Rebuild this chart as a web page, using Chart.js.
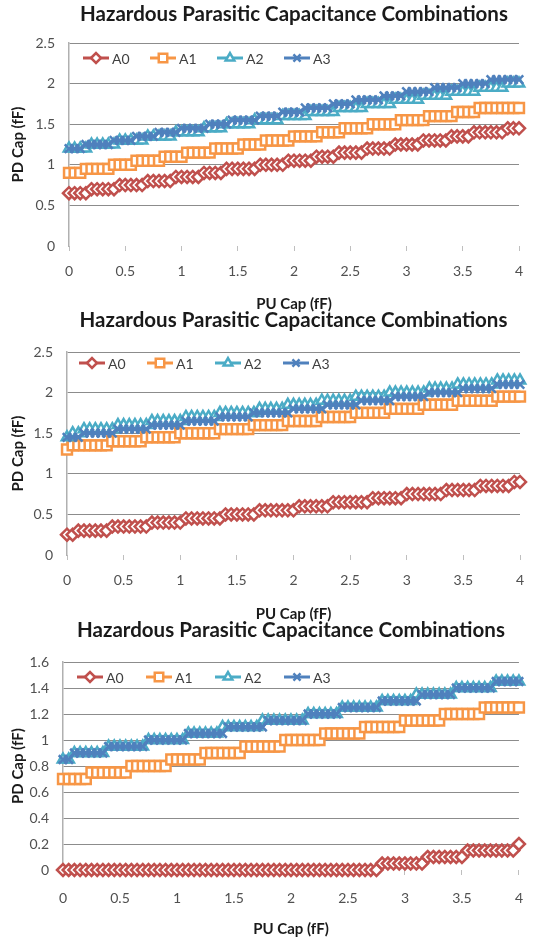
<!DOCTYPE html>
<html>
<head>
<meta charset="utf-8">
<script src="https://cdn.jsdelivr.net/npm/chart.js"></script>
<style>
  html, body { margin: 0; padding: 0; background: #fff; width: 538px; height: 938px; overflow: hidden; }
  .box { position: absolute; left: 0; }
</style>
</head>
<body>
<div class="box" style="top:0px"><canvas id="c1" width="538" height="313"></canvas></div>
<div class="box" style="top:306px"><canvas id="c2" width="538" height="317"></canvas></div>
<div class="box" style="top:616px"><canvas id="c3" width="538" height="322"></canvas></div>
<script>
// PU Cap (fF) - eje X, paso 0.05
const puCap = [
  0, 0.05, 0.1, 0.15, 0.2, 0.25, 0.3, 0.35, 0.4, 0.45,
  0.5, 0.55, 0.6, 0.65, 0.7, 0.75, 0.8, 0.85, 0.9, 0.95,
  1, 1.05, 1.1, 1.15, 1.2, 1.25, 1.3, 1.35, 1.4, 1.45,
  1.5, 1.55, 1.6, 1.65, 1.7, 1.75, 1.8, 1.85, 1.9, 1.95,
  2, 2.05, 2.1, 2.15, 2.2, 2.25, 2.3, 2.35, 2.4, 2.45,
  2.5, 2.55, 2.6, 2.65, 2.7, 2.75, 2.8, 2.85, 2.9, 2.95,
  3, 3.05, 3.1, 3.15, 3.2, 3.25, 3.3, 3.35, 3.4, 3.45,
  3.5, 3.55, 3.6, 3.65, 3.7, 3.75, 3.8, 3.85, 3.9, 3.95,
  4
];

const seriesNames = ['A0', 'A1', 'A2', 'A3'];

// Grafico 1 - PD Cap (fF)
const c1A0 = [
  0.65, 0.65, 0.65, 0.65,
  0.7, 0.7, 0.7, 0.7, 0.7,
  0.75, 0.75, 0.75, 0.75, 0.75,
  0.8, 0.8, 0.8, 0.8, 0.8,
  0.85, 0.85, 0.85, 0.85, 0.85,
  0.9, 0.9, 0.9, 0.9,
  0.95, 0.95, 0.95, 0.95, 0.95, 0.95,
  1, 1, 1, 1, 1,
  1.05, 1.05, 1.05, 1.05, 1.05,
  1.1, 1.1, 1.1, 1.1,
  1.15, 1.15, 1.15, 1.15, 1.15,
  1.2, 1.2, 1.2, 1.2, 1.2,
  1.25, 1.25, 1.25, 1.25, 1.25,
  1.3, 1.3, 1.3, 1.3, 1.3,
  1.35, 1.35, 1.35, 1.35,
  1.4, 1.4, 1.4, 1.4, 1.4, 1.4,
  1.45, 1.45, 1.45
];
const c1A1 = [
  0.9, 0.9, 0.9,
  0.95, 0.95, 0.95, 0.95, 0.95,
  1, 1, 1, 1,
  1.05, 1.05, 1.05, 1.05, 1.05,
  1.1, 1.1, 1.1, 1.1,
  1.15, 1.15, 1.15, 1.15, 1.15,
  1.2, 1.2, 1.2, 1.2, 1.2,
  1.25, 1.25, 1.25, 1.25,
  1.3, 1.3, 1.3, 1.3, 1.3,
  1.35, 1.35, 1.35, 1.35, 1.35,
  1.4, 1.4, 1.4, 1.4,
  1.45, 1.45, 1.45, 1.45, 1.45,
  1.5, 1.5, 1.5, 1.5, 1.5,
  1.55, 1.55, 1.55, 1.55, 1.55,
  1.6, 1.6, 1.6, 1.6, 1.6,
  1.65, 1.65, 1.65, 1.65,
  1.7, 1.7, 1.7, 1.7, 1.7, 1.7, 1.7, 1.7
];
const c1A2 = [
  1.2, 1.2, 1.2, 1.2,
  1.25, 1.25, 1.25, 1.25, 1.25,
  1.3, 1.3, 1.3, 1.3, 1.3,
  1.35, 1.35, 1.35, 1.35, 1.35,
  1.4, 1.4, 1.4, 1.4, 1.4,
  1.45, 1.45, 1.45, 1.45,
  1.5, 1.5, 1.5, 1.5, 1.5,
  1.55, 1.55, 1.55, 1.55, 1.55,
  1.6, 1.6, 1.6, 1.6, 1.6,
  1.65, 1.65, 1.65, 1.65, 1.65,
  1.7, 1.7, 1.7, 1.7, 1.7,
  1.75, 1.75, 1.75, 1.75, 1.75,
  1.8, 1.8, 1.8, 1.8, 1.8,
  1.85, 1.85, 1.85, 1.85, 1.85,
  1.9, 1.9, 1.9, 1.9, 1.9,
  1.95, 1.95, 1.95, 1.95, 1.95,
  2, 2, 2
];
const c1A3 = [
  1.2, 1.2, 1.2,
  1.25, 1.25, 1.25, 1.25, 1.25,
  1.3, 1.3, 1.3, 1.3,
  1.35, 1.35, 1.35, 1.35,
  1.4, 1.4, 1.4, 1.4,
  1.45, 1.45, 1.45, 1.45, 1.45,
  1.5, 1.5, 1.5, 1.5,
  1.55, 1.55, 1.55, 1.55, 1.55,
  1.6, 1.6, 1.6, 1.6,
  1.65, 1.65, 1.65, 1.65,
  1.7, 1.7, 1.7, 1.7, 1.7,
  1.75, 1.75, 1.75, 1.75,
  1.8, 1.8, 1.8, 1.8, 1.8,
  1.85, 1.85, 1.85, 1.85,
  1.9, 1.9, 1.9, 1.9, 1.9,
  1.95, 1.95, 1.95, 1.95, 1.95,
  2, 2, 2, 2, 2,
  2.05, 2.05, 2.05, 2.05, 2.05, 2.05
];

// Grafico 2
const c2A0 = [
  0.25, 0.25,
  0.3, 0.3, 0.3, 0.3, 0.3, 0.3,
  0.35, 0.35, 0.35, 0.35, 0.35, 0.35, 0.35,
  0.4, 0.4, 0.4, 0.4, 0.4, 0.4,
  0.45, 0.45, 0.45, 0.45, 0.45, 0.45, 0.45,
  0.5, 0.5, 0.5, 0.5, 0.5, 0.5,
  0.55, 0.55, 0.55, 0.55, 0.55, 0.55, 0.55,
  0.6, 0.6, 0.6, 0.6, 0.6, 0.6,
  0.65, 0.65, 0.65, 0.65, 0.65, 0.65, 0.65,
  0.7, 0.7, 0.7, 0.7, 0.7, 0.7,
  0.75, 0.75, 0.75, 0.75, 0.75, 0.75, 0.75,
  0.8, 0.8, 0.8, 0.8, 0.8, 0.8,
  0.85, 0.85, 0.85, 0.85, 0.85, 0.85,
  0.9, 0.9
];
const c2A1 = [
  1.3,
  1.35, 1.35, 1.35, 1.35, 1.35, 1.35, 1.35,
  1.4, 1.4, 1.4, 1.4, 1.4, 1.4,
  1.45, 1.45, 1.45, 1.45, 1.45, 1.45,
  1.5, 1.5, 1.5, 1.5, 1.5, 1.5, 1.5,
  1.55, 1.55, 1.55, 1.55, 1.55, 1.55,
  1.6, 1.6, 1.6, 1.6, 1.6, 1.6,
  1.65, 1.65, 1.65, 1.65, 1.65, 1.65,
  1.7, 1.7, 1.7, 1.7, 1.7, 1.7,
  1.75, 1.75, 1.75, 1.75, 1.75, 1.75,
  1.8, 1.8, 1.8, 1.8, 1.8, 1.8,
  1.85, 1.85, 1.85, 1.85, 1.85, 1.85,
  1.9, 1.9, 1.9, 1.9, 1.9, 1.9, 1.9,
  1.95, 1.95, 1.95, 1.95, 1.95
];
const c2A2 = [
  1.45,
  1.5, 1.5,
  1.55, 1.55, 1.55, 1.55, 1.55, 1.55,
  1.6, 1.6, 1.6, 1.6, 1.6, 1.6,
  1.65, 1.65, 1.65, 1.65, 1.65, 1.65,
  1.7, 1.7, 1.7, 1.7, 1.7, 1.7,
  1.75, 1.75, 1.75, 1.75, 1.75, 1.75, 1.75,
  1.8, 1.8, 1.8, 1.8, 1.8,
  1.85, 1.85, 1.85, 1.85, 1.85, 1.85,
  1.9, 1.9, 1.9, 1.9, 1.9, 1.9,
  1.95, 1.95, 1.95, 1.95, 1.95, 1.95,
  2, 2, 2, 2, 2, 2, 2,
  2.05, 2.05, 2.05, 2.05, 2.05,
  2.1, 2.1, 2.1, 2.1, 2.1, 2.1, 2.1,
  2.15, 2.15, 2.15, 2.15, 2.15
];
const c2A3 = [
  1.45, 1.45, 1.45,
  1.5, 1.5, 1.5, 1.5, 1.5, 1.5,
  1.55, 1.55, 1.55, 1.55, 1.55, 1.55,
  1.6, 1.6, 1.6, 1.6, 1.6, 1.6,
  1.65, 1.65, 1.65, 1.65, 1.65, 1.65,
  1.7, 1.7, 1.7, 1.7, 1.7, 1.7,
  1.75, 1.75, 1.75, 1.75, 1.75, 1.75, 1.75,
  1.8, 1.8, 1.8, 1.8, 1.8, 1.8,
  1.85, 1.85, 1.85, 1.85, 1.85, 1.85,
  1.9, 1.9, 1.9, 1.9, 1.9, 1.9,
  1.95, 1.95, 1.95, 1.95, 1.95, 1.95,
  2, 2, 2, 2, 2, 2,
  2.05, 2.05, 2.05, 2.05, 2.05, 2.05,
  2.1, 2.1, 2.1, 2.1, 2.1
];

// Grafico 3
const c3A0 = [
  0, 0, 0, 0, 0, 0, 0, 0,
  0, 0, 0, 0, 0, 0, 0, 0,
  0, 0, 0, 0, 0, 0, 0, 0,
  0, 0, 0, 0, 0, 0, 0, 0,
  0, 0, 0, 0, 0, 0, 0, 0,
  0, 0, 0, 0, 0, 0, 0, 0,
  0, 0, 0, 0, 0, 0, 0, 0,
  0.05, 0.05, 0.05, 0.05, 0.05, 0.05, 0.05, 0.05,
  0.1, 0.1, 0.1, 0.1, 0.1, 0.1, 0.1,
  0.15, 0.15, 0.15, 0.15, 0.15, 0.15, 0.15, 0.15, 0.15,
  0.2
];
const c3A1 = [
  0.7, 0.7, 0.7, 0.7, 0.7,
  0.75, 0.75, 0.75, 0.75, 0.75, 0.75, 0.75,
  0.8, 0.8, 0.8, 0.8, 0.8, 0.8, 0.8,
  0.85, 0.85, 0.85, 0.85, 0.85, 0.85,
  0.9, 0.9, 0.9, 0.9, 0.9, 0.9, 0.9,
  0.95, 0.95, 0.95, 0.95, 0.95, 0.95, 0.95,
  1, 1, 1, 1, 1, 1, 1,
  1.05, 1.05, 1.05, 1.05, 1.05, 1.05, 1.05,
  1.1, 1.1, 1.1, 1.1, 1.1, 1.1, 1.1,
  1.15, 1.15, 1.15, 1.15, 1.15, 1.15, 1.15,
  1.2, 1.2, 1.2, 1.2, 1.2, 1.2, 1.2,
  1.25, 1.25, 1.25, 1.25, 1.25, 1.25, 1.25
];
const c3A2 = [
  0.85, 0.85,
  0.9, 0.9, 0.9, 0.9, 0.9, 0.9,
  0.95, 0.95, 0.95, 0.95, 0.95, 0.95, 0.95,
  1, 1, 1, 1, 1, 1, 1,
  1.05, 1.05, 1.05, 1.05, 1.05, 1.05,
  1.1, 1.1, 1.1, 1.1, 1.1, 1.1, 1.1,
  1.15, 1.15, 1.15, 1.15, 1.15, 1.15, 1.15, 1.15,
  1.2, 1.2, 1.2, 1.2, 1.2, 1.2,
  1.25, 1.25, 1.25, 1.25, 1.25, 1.25, 1.25,
  1.3, 1.3, 1.3, 1.3, 1.3, 1.3,
  1.35, 1.35, 1.35, 1.35, 1.35, 1.35, 1.35,
  1.4, 1.4, 1.4, 1.4, 1.4, 1.4, 1.4,
  1.45, 1.45, 1.45, 1.45, 1.45
];
const c3A3 = [
  0.85, 0.85,
  0.9, 0.9, 0.9, 0.9, 0.9, 0.9,
  0.95, 0.95, 0.95, 0.95, 0.95, 0.95, 0.95,
  1, 1, 1, 1, 1, 1, 1,
  1.05, 1.05, 1.05, 1.05, 1.05, 1.05, 1.05,
  1.1, 1.1, 1.1, 1.1, 1.1, 1.1, 1.1,
  1.15, 1.15, 1.15, 1.15, 1.15, 1.15, 1.15,
  1.2, 1.2, 1.2, 1.2, 1.2, 1.2,
  1.25, 1.25, 1.25, 1.25, 1.25, 1.25, 1.25,
  1.3, 1.3, 1.3, 1.3, 1.3, 1.3, 1.3,
  1.35, 1.35, 1.35, 1.35, 1.35, 1.35,
  1.4, 1.4, 1.4, 1.4, 1.4, 1.4, 1.4,
  1.45, 1.45, 1.45, 1.45, 1.45
];

const xTicks = [0, 0.5, 1, 1.5, 2, 2.5, 3, 3.5, 4];

// estilos de cada serie (estilo Excel 2007)
const estilos = [
  { color: '#C0504D', punto: 'rectRot', radio: 6 },
  { color: '#F79646', punto: 'rect', radio: 7 },
  { color: '#4BACC6', punto: 'triangle', radio: 6 },
  { color: '#4F81BD', punto: 'crossRot', radio: 6 }
];

const FUENTE = "Lato, 'Liberation Sans', sans-serif";
const fmt = v => String(Math.round(v * 100) / 100);

// leyenda dentro del area del grafico, arriba a la izquierda
const leyendaInterna = {
  id: 'leyendaInterna',
  afterDraw(chart, args, opts) {
    const ctx = chart.ctx, a = chart.chartArea;
    ctx.save();
    chart.data.datasets.forEach((ds, i) => {
      const x = a.left + opts.dx + i * opts.gap;
      const y = a.top + opts.dy;
      ctx.strokeStyle = ds.borderColor;
      ctx.lineWidth = 3;
      ctx.beginPath();
      ctx.moveTo(x, y);
      ctx.lineTo(x + 26, y);
      ctx.stroke();
      if (Chart.helpers && Chart.helpers.drawPoint) {
        ctx.fillStyle = '#fff';
        ctx.lineWidth = 2.5;
        Chart.helpers.drawPoint(ctx, { pointStyle: ds.pointStyle, radius: ds.pointRadius - 1, borderWidth: 2.5, rotation: 0 }, x + 13, y);
      }
      ctx.fillStyle = '#404040';
      ctx.font = '14px ' + FUENTE;
      ctx.textBaseline = 'middle';
      ctx.textAlign = 'left';
      ctx.fillText(ds.label, x + 29, y + 1);
    });
    ctx.restore();
  }
};

function crearGrafico(id, series, cfg) {
  const datasets = series.map((vals, i) => ({
    label: seriesNames[i],
    data: vals.map((v, k) => ({ x: puCap[k], y: v })),
    borderColor: estilos[i].color,
    backgroundColor: '#fff',
    borderWidth: 3,
    pointStyle: estilos[i].punto,
    pointRadius: estilos[i].radio,
    pointBorderWidth: 2.5,
    pointBackgroundColor: '#fff',
    pointBorderColor: estilos[i].color,
    tension: 0,
    clip: 10,
    order: 3 - i
  }));

  return new Chart(document.getElementById(id), {
    type: 'line',
    data: { datasets },
    plugins: [leyendaInterna],
    options: {
      responsive: false,
      animation: false,
      devicePixelRatio: 1,
      layout: { padding: { left: 0, right: 538 - cfg.right, top: 0, bottom: 0 } },
      plugins: {
        legend: { display: false },
        tooltip: { enabled: false },
        title: {
          display: true,
          fullSize: false,
          text: 'Hazardous Parasitic Capacitance Combinations',
          color: '#1a1a1a',
          font: { family: FUENTE, size: 20.5, weight: 'bold', lineHeight: 1.2 },
          padding: { top: 2, bottom: cfg.top - 2 - 24.6 }
        },
        leyendaInterna: cfg.legend
      },
      scales: {
        x: {
          type: 'linear',
          min: 0, max: 4,
          afterFit: s => { s.height = cfg.xAxisH; },
          afterBuildTicks: s => { s.ticks = xTicks.map(v => ({ value: v })); },
          grid: { drawOnChartArea: false, drawTicks: true, tickLength: 5, color: '#bfbfbf' },
          border: { display: false },
          ticks: { callback: fmt, color: '#505050', padding: cfg.xPad, font: { family: FUENTE, size: 14 }, maxRotation: 0 },
          title: {
            display: true, text: 'PU Cap (fF)', color: '#1a1a1a',
            font: { family: FUENTE, size: 15, weight: 'bold' },
            padding: { top: 0, bottom: 0 }
          }
        },
        y: {
          min: 0, max: cfg.yMax,
          afterFit: s => { s.width = cfg.left; },
          ticks: { stepSize: cfg.yStep, callback: fmt, color: '#505050', padding: 14, font: { family: FUENTE, size: 14 } },
          grid: {
            drawTicks: false,
            color: c => c.tick && c.tick.value === 0 ? 'rgba(0,0,0,0)' : '#8c8c8c'
          },
          border: { display: true, color: '#b0b0b0', width: 1.5 },
          title: {
            display: true, text: 'PD Cap (fF)', color: '#1a1a1a',
            font: { family: FUENTE, size: 15, weight: 'bold' },
            padding: { top: 9, bottom: 0 }
          }
        }
      }
    }
  });
}

charts = {};
charts.g1 = crearGrafico('c1', [c1A0, c1A1, c1A2, c1A3], {
  left: 69, right: 519, top: 43, xAxisH: 67, xPad: 12, yMax: 2.5, yStep: 0.5,
  legend: { dx: 14, dy: 15, gap: 67 }
});
charts.g2 = crearGrafico('c2', [c2A0, c2A1, c2A2, c2A3], {
  left: 67, right: 520, top: 46, xAxisH: 68, xPad: 12, yMax: 2.5, yStep: 0.5,
  legend: { dx: 12, dy: 11, gap: 68 }
});
charts.g3 = crearGrafico('c3', [c3A0, c3A1, c3A2, c3A3], {
  left: 63, right: 527, top: 46, xAxisH: 68, xPad: 15, yMax: 1.6, yStep: 0.2,
  legend: { dx: 14, dy: 15, gap: 69 }
});
</script>
</body>
</html>
